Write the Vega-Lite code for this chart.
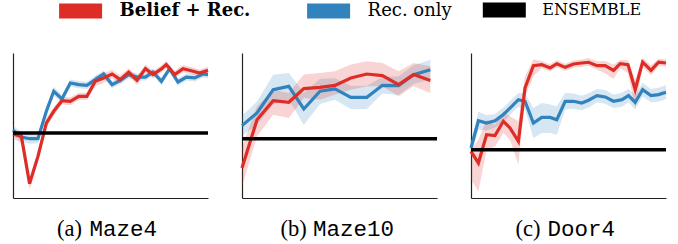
{
  "$schema": "https://vega.github.io/schema/vega-lite/v6.json",
  "padding": {"left": 6, "top": 2, "right": 12, "bottom": 5},
  "datasets": {
    "runs": [
      {"panel":"Maze4","series":"Rec. only","x":0,"y":46.7,"lo":43.5,"hi":50},
      {"panel":"Maze4","series":"Rec. only","x":4.3,"y":42.1,"lo":38.8,"hi":45.4},
      {"panel":"Maze4","series":"Rec. only","x":8.5,"y":40.9,"lo":37.5,"hi":44.3},
      {"panel":"Maze4","series":"Rec. only","x":12.8,"y":40.9,"lo":37.8,"hi":44},
      {"panel":"Maze4","series":"Rec. only","x":17.1,"y":59.8,"lo":56.5,"hi":63},
      {"panel":"Maze4","series":"Rec. only","x":20.9,"y":73.6,"lo":70.5,"hi":76.7},
      {"panel":"Maze4","series":"Rec. only","x":25.1,"y":68.3,"lo":65.5,"hi":71.1},
      {"panel":"Maze4","series":"Rec. only","x":29.4,"y":79.3,"lo":76.8,"hi":81.8},
      {"panel":"Maze4","series":"Rec. only","x":33.7,"y":78.2,"lo":75.7,"hi":80.7},
      {"panel":"Maze4","series":"Rec. only","x":37.9,"y":77.7,"lo":75.2,"hi":80.2},
      {"panel":"Maze4","series":"Rec. only","x":42.2,"y":81.6,"lo":79.1,"hi":84.1},
      {"panel":"Maze4","series":"Rec. only","x":46.5,"y":85.5,"lo":83,"hi":88},
      {"panel":"Maze4","series":"Rec. only","x":50.8,"y":78.2,"lo":75.7,"hi":80.7},
      {"panel":"Maze4","series":"Rec. only","x":55.0,"y":81.1,"lo":78.6,"hi":83.6},
      {"panel":"Maze4","series":"Rec. only","x":59.3,"y":85.1,"lo":82.6,"hi":87.6},
      {"panel":"Maze4","series":"Rec. only","x":63.6,"y":83.4,"lo":81,"hi":85.8},
      {"panel":"Maze4","series":"Rec. only","x":67.9,"y":83.4,"lo":81,"hi":85.8},
      {"panel":"Maze4","series":"Rec. only","x":71.8,"y":86.9,"lo":84.5,"hi":89.3},
      {"panel":"Maze4","series":"Rec. only","x":76.1,"y":80.5,"lo":78,"hi":83},
      {"panel":"Maze4","series":"Rec. only","x":80.3,"y":89.2,"lo":86.8,"hi":91.6},
      {"panel":"Maze4","series":"Rec. only","x":84.6,"y":80.0,"lo":77.6,"hi":82.4},
      {"panel":"Maze4","series":"Rec. only","x":88.9,"y":83.4,"lo":81,"hi":85.8},
      {"panel":"Maze4","series":"Rec. only","x":93.2,"y":82.8,"lo":80.4,"hi":85.2},
      {"panel":"Maze4","series":"Rec. only","x":97.4,"y":85.5,"lo":83.1,"hi":87.9},
      {"panel":"Maze4","series":"Rec. only","x":100,"y":85.1,"lo":82.7,"hi":87.5},

      {"panel":"Maze4","series":"Belief + Rec.","x":0,"y":44.1,"lo":41,"hi":47},
      {"panel":"Maze4","series":"Belief + Rec.","x":4.3,"y":42.5,"lo":38,"hi":46},
      {"panel":"Maze4","series":"Belief + Rec.","x":8.5,"y":9.9,"lo":5.5,"hi":14},
      {"panel":"Maze4","series":"Belief + Rec.","x":12.8,"y":28.7,"lo":25,"hi":32.5},
      {"panel":"Maze4","series":"Belief + Rec.","x":17.1,"y":51.7,"lo":48.5,"hi":55},
      {"panel":"Maze4","series":"Belief + Rec.","x":20.9,"y":59.8,"lo":57,"hi":62.6},
      {"panel":"Maze4","series":"Belief + Rec.","x":25.1,"y":67.1,"lo":64.5,"hi":69.7},
      {"panel":"Maze4","series":"Belief + Rec.","x":29.4,"y":66.7,"lo":64,"hi":69.4},
      {"panel":"Maze4","series":"Belief + Rec.","x":33.7,"y":70.1,"lo":67.6,"hi":72.6},
      {"panel":"Maze4","series":"Belief + Rec.","x":37.9,"y":70.1,"lo":67.6,"hi":72.6},
      {"panel":"Maze4","series":"Belief + Rec.","x":42.2,"y":80.5,"lo":77,"hi":84},
      {"panel":"Maze4","series":"Belief + Rec.","x":46.5,"y":82.8,"lo":79.5,"hi":86},
      {"panel":"Maze4","series":"Belief + Rec.","x":50.8,"y":85.5,"lo":82.5,"hi":88.5},
      {"panel":"Maze4","series":"Belief + Rec.","x":55.0,"y":81.6,"lo":78.8,"hi":84.4},
      {"panel":"Maze4","series":"Belief + Rec.","x":59.3,"y":86.7,"lo":84,"hi":89.4},
      {"panel":"Maze4","series":"Belief + Rec.","x":63.6,"y":81.1,"lo":78,"hi":84.2},
      {"panel":"Maze4","series":"Belief + Rec.","x":67.9,"y":89.2,"lo":86.5,"hi":91.9},
      {"panel":"Maze4","series":"Belief + Rec.","x":71.8,"y":85.1,"lo":82.5,"hi":87.7},
      {"panel":"Maze4","series":"Belief + Rec.","x":76.1,"y":89.0,"lo":86.5,"hi":91.5},
      {"panel":"Maze4","series":"Belief + Rec.","x":78.6,"y":92.0,"lo":89.5,"hi":94.5},
      {"panel":"Maze4","series":"Belief + Rec.","x":82.9,"y":85.1,"lo":82.5,"hi":87.7},
      {"panel":"Maze4","series":"Belief + Rec.","x":87.2,"y":89.2,"lo":86.7,"hi":91.7},
      {"panel":"Maze4","series":"Belief + Rec.","x":91.5,"y":87.8,"lo":85.3,"hi":90.3},
      {"panel":"Maze4","series":"Belief + Rec.","x":95.7,"y":86.2,"lo":83.7,"hi":88.7},
      {"panel":"Maze4","series":"Belief + Rec.","x":100,"y":88.0,"lo":85.5,"hi":90.5},

      {"panel":"Maze10","series":"Rec. only","x":0,"y":49.9,"lo":43,"hi":56.8},
      {"panel":"Maze10","series":"Rec. only","x":7.7,"y":58.6,"lo":50.6,"hi":66.6},
      {"panel":"Maze10","series":"Rec. only","x":16.0,"y":74.7,"lo":64.4,"hi":85},
      {"panel":"Maze10","series":"Rec. only","x":24.0,"y":77.0,"lo":67.8,"hi":86.2},
      {"panel":"Maze10","series":"Rec. only","x":31.7,"y":61.4,"lo":50.4,"hi":72.4},
      {"panel":"Maze10","series":"Rec. only","x":40.0,"y":73.6,"lo":64.9,"hi":82.3},
      {"panel":"Maze10","series":"Rec. only","x":47.7,"y":75.2,"lo":67.8,"hi":82.6},
      {"panel":"Maze10","series":"Rec. only","x":55.8,"y":69.4,"lo":61.4,"hi":77.4},
      {"panel":"Maze10","series":"Rec. only","x":64.0,"y":69.4,"lo":61.4,"hi":77.4},
      {"panel":"Maze10","series":"Rec. only","x":72.0,"y":77.7,"lo":72,"hi":83.4},
      {"panel":"Maze10","series":"Rec. only","x":80.3,"y":77.5,"lo":71.1,"hi":83.9},
      {"panel":"Maze10","series":"Rec. only","x":88.0,"y":85.1,"lo":78.7,"hi":91.5},
      {"panel":"Maze10","series":"Rec. only","x":96.6,"y":88.5,"lo":81.6,"hi":95.4},

      {"panel":"Maze10","series":"Belief + Rec.","x":0,"y":20.7,"lo":8,"hi":35},
      {"panel":"Maze10","series":"Belief + Rec.","x":7.7,"y":54.0,"lo":42.5,"hi":63.2},
      {"panel":"Maze10","series":"Belief + Rec.","x":16.0,"y":67.1,"lo":57.5,"hi":74.7},
      {"panel":"Maze10","series":"Belief + Rec.","x":24.0,"y":66.0,"lo":55.2,"hi":72.4},
      {"panel":"Maze10","series":"Belief + Rec.","x":31.7,"y":75.4,"lo":69.0,"hi":85.1},
      {"panel":"Maze10","series":"Belief + Rec.","x":40.0,"y":76.3,"lo":67.8,"hi":86.2},
      {"panel":"Maze10","series":"Belief + Rec.","x":47.7,"y":77.7,"lo":71.3,"hi":87.4},
      {"panel":"Maze10","series":"Belief + Rec.","x":55.8,"y":82.8,"lo":74.7,"hi":92.0},
      {"panel":"Maze10","series":"Belief + Rec.","x":64.0,"y":85.5,"lo":77.0,"hi":94.3},
      {"panel":"Maze10","series":"Belief + Rec.","x":72.0,"y":84.4,"lo":77.0,"hi":93.1},
      {"panel":"Maze10","series":"Belief + Rec.","x":80.3,"y":78.2,"lo":70.1,"hi":87.4},
      {"panel":"Maze10","series":"Belief + Rec.","x":88.0,"y":85.1,"lo":77.0,"hi":93.1},
      {"panel":"Maze10","series":"Belief + Rec.","x":96.6,"y":81.1,"lo":72.4,"hi":90.8},

      {"panel":"Door4","series":"Rec. only","x":0,"y":34.5,"lo":30,"hi":39},
      {"panel":"Door4","series":"Rec. only","x":3.8,"y":53.3,"lo":47,"hi":59.5},
      {"panel":"Door4","series":"Rec. only","x":8.0,"y":51.7,"lo":46.5,"hi":57},
      {"panel":"Door4","series":"Rec. only","x":12.3,"y":53.3,"lo":48.5,"hi":58},
      {"panel":"Door4","series":"Rec. only","x":16.6,"y":57.5,"lo":52.5,"hi":62.5},
      {"panel":"Door4","series":"Rec. only","x":20.9,"y":63.2,"lo":58.5,"hi":68},
      {"panel":"Door4","series":"Rec. only","x":24.3,"y":67.8,"lo":63,"hi":72.5},
      {"panel":"Door4","series":"Rec. only","x":27.7,"y":66.7,"lo":61,"hi":72},
      {"panel":"Door4","series":"Rec. only","x":32.0,"y":51.7,"lo":41.4,"hi":62},
      {"panel":"Door4","series":"Rec. only","x":36.3,"y":55.6,"lo":44.8,"hi":65.5},
      {"panel":"Door4","series":"Rec. only","x":40.6,"y":55.6,"lo":44.8,"hi":64.4},
      {"panel":"Door4","series":"Rec. only","x":44.0,"y":54.0,"lo":43.7,"hi":63.2},
      {"panel":"Door4","series":"Rec. only","x":48.3,"y":66.7,"lo":61,"hi":72.4},
      {"panel":"Door4","series":"Rec. only","x":52.6,"y":66.7,"lo":61.5,"hi":72},
      {"panel":"Door4","series":"Rec. only","x":56.8,"y":65.5,"lo":60.5,"hi":70.5},
      {"panel":"Door4","series":"Rec. only","x":60.3,"y":67.4,"lo":62.5,"hi":72.3},
      {"panel":"Door4","series":"Rec. only","x":64.6,"y":70.6,"lo":66,"hi":75.2},
      {"panel":"Door4","series":"Rec. only","x":68.8,"y":69.7,"lo":65,"hi":74.4},
      {"panel":"Door4","series":"Rec. only","x":73.1,"y":66.7,"lo":62,"hi":71.4},
      {"panel":"Door4","series":"Rec. only","x":77.4,"y":67.8,"lo":63,"hi":72.6},
      {"panel":"Door4","series":"Rec. only","x":80.8,"y":70.6,"lo":66,"hi":75.2},
      {"panel":"Door4","series":"Rec. only","x":84.2,"y":65.9,"lo":61,"hi":70.8},
      {"panel":"Door4","series":"Rec. only","x":88.0,"y":74.7,"lo":70,"hi":79.4},
      {"panel":"Door4","series":"Rec. only","x":92.3,"y":70.6,"lo":66,"hi":75.2},
      {"panel":"Door4","series":"Rec. only","x":96.2,"y":71.3,"lo":66.6,"hi":76},
      {"panel":"Door4","series":"Rec. only","x":100,"y":73.0,"lo":68.3,"hi":77.7},

      {"panel":"Door4","series":"Belief + Rec.","x":0,"y":32.2,"lo":12.6,"hi":33.5},
      {"panel":"Door4","series":"Belief + Rec.","x":3.8,"y":24.1,"lo":4.6,"hi":40.2},
      {"panel":"Door4","series":"Belief + Rec.","x":8.0,"y":43.7,"lo":33.3,"hi":54},
      {"panel":"Door4","series":"Belief + Rec.","x":12.3,"y":43.0,"lo":35.6,"hi":50.6},
      {"panel":"Door4","series":"Belief + Rec.","x":16.6,"y":52.9,"lo":44.8,"hi":59.8},
      {"panel":"Door4","series":"Belief + Rec.","x":20.0,"y":48.3,"lo":40.2,"hi":56.3},
      {"panel":"Door4","series":"Belief + Rec.","x":24.3,"y":39.1,"lo":23,"hi":52.9},
      {"panel":"Door4","series":"Belief + Rec.","x":27.7,"y":75.9,"lo":70,"hi":84},
      {"panel":"Door4","series":"Belief + Rec.","x":32.0,"y":91.3,"lo":84,"hi":95.6},
      {"panel":"Door4","series":"Belief + Rec.","x":36.3,"y":92.0,"lo":89.5,"hi":94.5},
      {"panel":"Door4","series":"Belief + Rec.","x":40.6,"y":89.7,"lo":87.2,"hi":92.2},
      {"panel":"Door4","series":"Belief + Rec.","x":44.0,"y":92.6,"lo":90.1,"hi":95.1},
      {"panel":"Door4","series":"Belief + Rec.","x":48.3,"y":90.1,"lo":87.6,"hi":92.6},
      {"panel":"Door4","series":"Belief + Rec.","x":52.6,"y":92.4,"lo":89.9,"hi":94.9},
      {"panel":"Door4","series":"Belief + Rec.","x":56.8,"y":93.1,"lo":90.6,"hi":95.6},
      {"panel":"Door4","series":"Belief + Rec.","x":60.3,"y":93.6,"lo":91.1,"hi":96.5},
      {"panel":"Door4","series":"Belief + Rec.","x":64.6,"y":91.3,"lo":88.5,"hi":94.3},
      {"panel":"Door4","series":"Belief + Rec.","x":68.8,"y":91.3,"lo":86,"hi":94.5},
      {"panel":"Door4","series":"Belief + Rec.","x":73.1,"y":88.0,"lo":82,"hi":92},
      {"panel":"Door4","series":"Belief + Rec.","x":76.5,"y":92.6,"lo":89.5,"hi":95.2},
      {"panel":"Door4","series":"Belief + Rec.","x":80.5,"y":92.0,"lo":86,"hi":95},
      {"panel":"Door4","series":"Belief + Rec.","x":84.2,"y":74.7,"lo":62.1,"hi":81.6},
      {"panel":"Door4","series":"Belief + Rec.","x":88.0,"y":93.8,"lo":90.5,"hi":96.5},
      {"panel":"Door4","series":"Belief + Rec.","x":92.3,"y":88.0,"lo":84.5,"hi":91.5},
      {"panel":"Door4","series":"Belief + Rec.","x":96.2,"y":93.6,"lo":91,"hi":96},
      {"panel":"Door4","series":"Belief + Rec.","x":100,"y":93.1,"lo":90.5,"hi":95.7}
    ],
    "ens": [
      {"panel":"Maze4","series":"ENSEMBLE","y":44.8},
      {"panel":"Maze10","series":"ENSEMBLE","y":40.9},
      {"panel":"Door4","series":"ENSEMBLE","y":33.3}
    ]
  },
  "spacing": 34,
  "bounds": "flush",
  "hconcat": [
    {
      "width": 195, "height": 145,
      "layer": [
        {
          "data": {"name": "runs"},
          "transform": [{"filter": "datum.panel === 'Maze4'"}],
          "mark": {"type": "area", "opacity": 0.2},
          "encoding": {
            "x": {"field": "x", "type": "quantitative", "scale": {"domain": [0, 100], "nice": false, "zero": false},
                  "axis": {"title": "Maze4", "titleX": 76, "titleY": 37}},
            "y": {"field": "lo", "type": "quantitative", "scale": {"domain": [0, 100], "nice": false, "zero": false},
                  "axis": {"title": "(a)", "titleX": 43.5, "titleY": 182}},
            "y2": {"field": "hi"},
            "color": {"field": "series", "type": "nominal",
                      "scale": {"domain": ["Belief + Rec.", "Rec. only"], "range": ["#de2d26", "#3182bd"]},
                      "legend": {
                        "legendX": 58.6, "legendY": -51,
                        "encode": {
                          "symbols": {"update": {"fill": {"scale": "color", "field": "value"}, "stroke": {"value": "transparent"}, "opacity": {"value": 1}}},
                          "labels": {"update": {
                            "fontWeight": {"signal": "datum.value === 'Belief + Rec.' ? 'bold' : 'normal'"}
                          }}
                        }
                      }}
          }
        },
        {
          "data": {"name": "runs"},
          "transform": [{"filter": "datum.panel === 'Maze4'"}],
          "mark": {"type": "line", "strokeWidth": 3.2},
          "encoding": {
            "x": {"field": "x", "type": "quantitative", "axis": {"title": "Maze4", "titleX": 76, "titleY": 37}},
            "y": {"field": "y", "type": "quantitative", "axis": {"title": "(a)", "titleX": 43.5, "titleY": 182}},
            "color": {"field": "series", "type": "nominal"}
          }
        },
        {
          "data": {"name": "ens"},
          "transform": [{"filter": "datum.panel === 'Maze4'"}],
          "mark": {"type": "rule", "strokeWidth": 3.5},
          "encoding": {
            "y": {"field": "y", "type": "quantitative", "axis": {"title": "(a)", "titleX": 43.5, "titleY": 182}},
            "stroke": {"field": "series", "type": "nominal",
                       "scale": {"domain": ["ENSEMBLE"], "range": ["#000000"]},
                       "legend": {
                         "legendX": 483.3, "legendY": -51, "labelFontSize": 16,
                         "encode": {
                           "symbols": {"update": {"fill": {"scale": "stroke", "field": "value"}, "stroke": {"value": "transparent"}, "opacity": {"value": 1}}}
                         }
                       }}
          }
        }
      ]
    },
    {
      "width": 195, "height": 145,
      "layer": [
        {
          "data": {"name": "runs"},
          "transform": [{"filter": "datum.panel === 'Maze10'"}],
          "mark": {"type": "area", "opacity": 0.2},
          "encoding": {
            "x": {"field": "x", "type": "quantitative", "scale": {"domain": [0, 100], "nice": false, "zero": false},
                  "axis": {"title": "Maze10", "titleX": 70.5, "titleY": 37}},
            "y": {"field": "lo", "type": "quantitative", "scale": {"domain": [0, 100], "nice": false, "zero": false},
                  "axis": {"title": "(b)", "titleX": 38, "titleY": 182}},
            "y2": {"field": "hi"},
            "color": {"field": "series", "type": "nominal"}
          }
        },
        {
          "data": {"name": "runs"},
          "transform": [{"filter": "datum.panel === 'Maze10'"}],
          "mark": {"type": "line", "strokeWidth": 3.2},
          "encoding": {
            "x": {"field": "x", "type": "quantitative", "axis": {"title": "Maze10", "titleX": 70.5, "titleY": 37}},
            "y": {"field": "y", "type": "quantitative", "axis": {"title": "(b)", "titleX": 38, "titleY": 182}},
            "color": {"field": "series", "type": "nominal"}
          }
        },
        {
          "data": {"name": "ens"},
          "transform": [{"filter": "datum.panel === 'Maze10'"}],
          "mark": {"type": "rule", "strokeWidth": 3.5},
          "encoding": {
            "y": {"field": "y", "type": "quantitative", "axis": {"title": "(b)", "titleX": 38, "titleY": 182}},
            "stroke": {"field": "series", "type": "nominal"}
          }
        }
      ]
    },
    {
      "width": 195, "height": 145,
      "layer": [
        {
          "data": {"name": "runs"},
          "transform": [{"filter": "datum.panel === 'Door4'"}],
          "mark": {"type": "area", "opacity": 0.2},
          "encoding": {
            "x": {"field": "x", "type": "quantitative", "scale": {"domain": [0, 100], "nice": false, "zero": false},
                  "axis": {"title": "Door4", "titleX": 76, "titleY": 37}},
            "y": {"field": "lo", "type": "quantitative", "scale": {"domain": [0, 100], "nice": false, "zero": false},
                  "axis": {"title": "(c)", "titleX": 44, "titleY": 182}},
            "y2": {"field": "hi"},
            "color": {"field": "series", "type": "nominal"}
          }
        },
        {
          "data": {"name": "runs"},
          "transform": [{"filter": "datum.panel === 'Door4'"}],
          "mark": {"type": "line", "strokeWidth": 3.2},
          "encoding": {
            "x": {"field": "x", "type": "quantitative", "axis": {"title": "Door4", "titleX": 76, "titleY": 37}},
            "y": {"field": "y", "type": "quantitative", "axis": {"title": "(c)", "titleX": 44, "titleY": 182}},
            "color": {"field": "series", "type": "nominal"}
          }
        },
        {
          "data": {"name": "ens"},
          "transform": [{"filter": "datum.panel === 'Door4'"}],
          "mark": {"type": "rule", "strokeWidth": 3.5},
          "encoding": {
            "y": {"field": "y", "type": "quantitative", "axis": {"title": "(c)", "titleX": 44, "titleY": 182}},
            "stroke": {"field": "series", "type": "nominal"}
          }
        }
      ]
    }
  ],
  "resolve": {"scale": {"color": "shared", "stroke": "shared"}},
  "config": {
    "view": {"stroke": null},
    "axis": {"domainColor": "#222222", "domainWidth": 1.2, "ticks": false, "labels": false, "grid": false,
             "titleColor": "#000000", "titleFontWeight": "normal", "minExtent": 0, "maxExtent": 0, "offset": 0},
    "axisX": {"titleFont": "Liberation Mono", "titleFontSize": 22.5, "titleAlign": "left", "titleBaseline": "alphabetic", "titleAnchor": "start"},
    "axisY": {"titleFont": "Liberation Serif", "titleFontSize": 22.5, "titleAngle": 0, "titleAlign": "left", "titleBaseline": "alphabetic", "titleAnchor": "start"},
    "legend": {
      "orient": "none", "direction": "horizontal", "title": null,
      "padding": 0, "symbolType": "M-2.867,-1L2.867,-1L2.867,1L-2.867,1Z", "symbolSize": 225,
      "symbolStrokeWidth": 0, "symbolOpacity": 1,
      "labelFont": "DejaVu Serif", "labelFontSize": 18, "labelColor": "#000000", "labelOffset": 30,
      "columnPadding": 56, "labelLimit": 300
    }
  }
}
